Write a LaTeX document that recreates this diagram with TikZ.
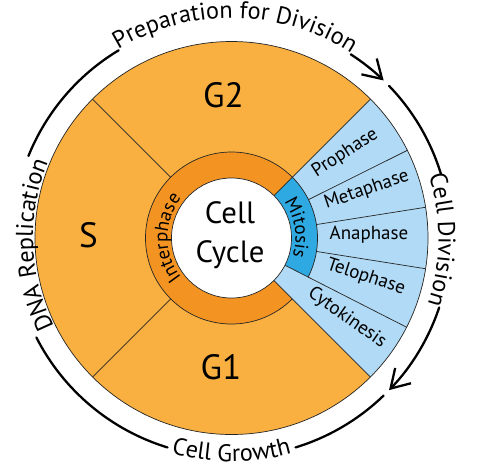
\documentclass[tikz,border=0pt]{standalone}
\usepackage{fontspec}
\setmainfont{PT Sans}
\usetikzlibrary{arrows.meta,decorations.text}

\definecolor{phaseorange}{HTML}{F9B040}
\definecolor{ringorange}{HTML}{F39422}
\definecolor{divblue}{HTML}{B0DAF5}
\definecolor{mitblue}{HTML}{2FA9E1}

\newcommand{\arcfont}{\fontsize{13.8}{16}\selectfont}
\newcommand{\ringfont}{\fontsize{10.8}{12}\selectfont}

\begin{document}
\begin{tikzpicture}[
  sectorline/.style={draw=black!85,line width=0.4pt},
  cyclearrow/.style={line width=1.3pt,line cap=round},
  cycletip/.style={-{Straight Barb[length=3.6mm,width=4.4mm]}},
  phaselabel/.style={font=\fontsize{10.8}{12}\selectfont},
  stagelabel/.style={font=\fontsize{20}{22}\selectfont}
]
\useasboundingbox (-4.63,-4.70) rectangle (5.37,4.76);

% wheel
\fill[phaseorange] (0,0) circle (3.93);
\fill[divblue] (0,0) -- (45:3.93) arc (45:-45:3.93) -- cycle;
\fill[ringorange] (45:1.72) arc (45:315:1.72) -- (315:1.2) arc (315:45:1.2) -- cycle;
\fill[mitblue] (45:1.72) arc (45:-27:1.72) -- (-27:1.2) arc (-27:45:1.2) -- cycle;
\fill[white] (0,0) circle (1.2);

\foreach \a in {135,225,26.5,9,-9}{
	\draw[sectorline] (\a:1.72) -- (\a:3.93);
}
\foreach \a in {45,-45,-27}{
	\draw[sectorline] (\a:1.2) -- (\a:3.93);
}
\draw[sectorline] (45:1.72) arc (45:315:1.72);
\draw[sectorline] (45:1.72) arc (45:-27:1.72);
\draw[sectorline] (0,0) circle (1.2);
\draw[sectorline] (0,0) circle (3.93);

% labels inside
\node[stagelabel] (g2) at (-0.16,2.86) {G2};
\node[stagelabel] (s) at (-2.86,0.06) {S};
\node[stagelabel] (g1) at (-0.21,-2.58) {G1};
\node[align=center,font=\fontsize{17.5}{22}\selectfont] (cc) at (-0.03,0.06) {Cell\\Cycle};

\node[phaselabel,rotate=33] (pro) at (36.8:2.84) {Prophase};
\node[phaselabel,rotate=19] (meta) at (19.5:2.87) {Metaphase};
\node[phaselabel] (ana) at (1.2:2.75) {Anaphase};
\node[phaselabel,rotate=-18] (telo) at (-16.2:2.8) {Telophase};
\node[phaselabel,rotate=-35] (cyto) at (-34.7:2.81) {Cytokinesis};

\path[decorate,decoration={text along path,text align=center,
	text={|\ringfont|Interphase}}] (240:1.28) arc (240:120:1.28);
\path[decorate,decoration={text along path,text align=center,
	text={|\ringfont|Mitosis}}] (55:1.28) arc (55:-37:1.28);

% cycle arcs
\draw[cyclearrow] (121:4.38) arc (121:158:4.38);
\draw[cyclearrow,cycletip] (57:4.38) arc (57:46:4.38);
\draw[cyclearrow] (44:4.38) arc (44:17:4.38);
\draw[cyclearrow,cycletip] (-18.5:4.38) arc (-18.5:-44:4.38);
\draw[cyclearrow] (-46:4.38) arc (-46:-73:4.38);
\draw[cyclearrow] (-107:4.38) arc (-107:-153:4.38);

\path[decorate,decoration={text along path,text align=center,
	text={|\arcfont|Preparation for Division}}] (121:4.40) arc (121:57:4.40);
\path[decorate,decoration={text along path,text align=center,
	text={|\arcfont|Cell Division}}] (17:4.14) arc (17:-18:4.14);
\path[decorate,decoration={text along path,text align=center,
	text={|\arcfont|Cell Growth}}] (-107:4.47) arc (-107:-73:4.47);
\path[decorate,decoration={text along path,text align=center,
	text={|\arcfont|DNA Replication}}] (207:3.97) arc (207:157:3.97);
\end{tikzpicture}
\end{document}
